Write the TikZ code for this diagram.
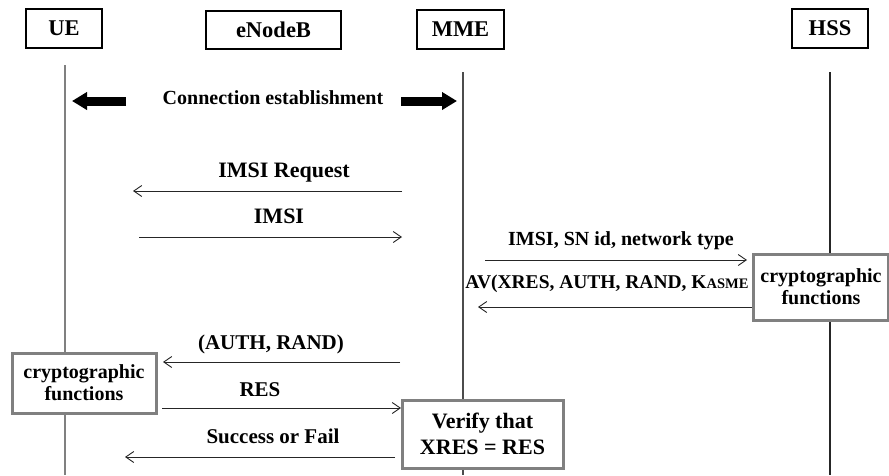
\documentclass[tikz,border=0pt]{standalone}
\usepackage{fontspec}
\setmainfont{Liberation Serif}
\usetikzlibrary{arrows.meta,shadows}
\begin{document}
\begin{tikzpicture}[x=1pt,y=-1pt,
  hdr/.style={draw=black, line width=2.2pt, minimum height=39pt, inner sep=0pt, font=\fontsize{22.5}{22.5}\selectfont\bfseries},
  life/.style={line width=1.1pt, draw=black!70},
  msg/.style={line width=0.9pt, draw=black!85, -{Straight Barb[length=8pt,width=11pt]}},
  lbl/.style={anchor=base, font=\fontsize{21}{21}\selectfont\bfseries, inner sep=0pt},
  fbox/.style={draw=black!50, line width=3pt, fill=white, align=center, inner sep=0pt,
     font=\fontsize{20}{22}\selectfont\bfseries,
     drop shadow={shadow xshift=2pt, shadow yshift=-2pt, opacity=0.35, fill=black!60}},
  bigarrow/.style={line width=9pt, draw=black, -{Triangle[length=15pt,width=17pt]}}
]
\useasboundingbox (0,0) rectangle (889,475);
\fill[white] (0,0) rectangle (889,475);

% headers
\node[hdr, minimum width=76pt] (ue) at (64,28.5) {UE};
\node[hdr, minimum width=135pt, minimum height=38pt] (enb) at (273.5,30) {eNodeB};
\node[hdr, minimum width=87pt] (mme) at (460.5,29.5) {MME};
\node[hdr, minimum width=76pt] (hss) at (830,28.5) {HSS};

% lifelines
\coordinate (uetop) at (65,65);   \coordinate (uebot) at (65,475);
\coordinate (mmetop) at (463,72); \coordinate (mmebot) at (463,475);
\coordinate (hsstop) at (830,72); \coordinate (hssbot) at (830,475);
\draw[life, draw=black!50] (uetop) -- (uebot);
\draw[life] (mmetop) -- (mmebot);
\draw[life, draw=black!85] (hsstop) -- (hssbot);

% connection establishment
\node[lbl, font=\fontsize{20}{20}\selectfont\bfseries] (conn) at (273,104) {Connection establishment};
\coordinate (cl1) at (126,101); \coordinate (cl2) at (72,101);
\coordinate (cr1) at (401,101); \coordinate (cr2) at (457,101);
\draw[bigarrow] (cl1) -- (cl2);
\draw[bigarrow] (cr1) -- (cr2);

% messages
\coordinate (m1s) at (402,191); \coordinate (m1e) at (133,191);
\draw[msg] (m1s) -- (m1e);
\node[lbl, font=\fontsize{22}{22}\selectfont\bfseries] (l1) at (284,177) {IMSI Request};

\coordinate (m2s) at (139,237); \coordinate (m2e) at (402,237);
\draw[msg] (m2s) -- (m2e);
\node[lbl, font=\fontsize{22}{22}\selectfont\bfseries] (l2) at (279,223) {IMSI};

\coordinate (m3s) at (485,260); \coordinate (m3e) at (747,260);
\draw[msg] (m3s) -- (m3e);
\node[lbl, font=\fontsize{20}{20}\selectfont\bfseries] (l3) at (621,245) {IMSI, SN id, network type};

\coordinate (m4s) at (753,307); \coordinate (m4e) at (478,307);
\draw[msg] (m4s) -- (m4e);
\node[lbl, font=\fontsize{19.5}{19.5}\selectfont\bfseries] (l4) at (607,288) {AV(XRES, AUTH, RAND, K{\fontsize{14.5}{14.5}\selectfont ASME}};

\coordinate (m5s) at (400,362); \coordinate (m5e) at (163,362);
\draw[msg] (m5s) -- (m5e);
\node[lbl] (l5) at (271,349) {(AUTH, RAND)};

\coordinate (m6s) at (162,408); \coordinate (m6e) at (401,408);
\draw[msg] (m6s) -- (m6e);
\node[lbl] (l6) at (260,396) {RES};

\coordinate (m7s) at (395,457); \coordinate (m7e) at (125,457);
\draw[msg] (m7s) -- (m7e);
\node[lbl] (l7) at (273,443) {Success or Fail};

% function boxes
\node[fbox, minimum width=135pt, minimum height=66pt] (hsscf) at (821,287) {cryptographic\\functions};
\node[fbox, minimum width=144pt, minimum height=60pt] (uecf) at (84,383) {cryptographic\\functions};
\node[fbox, minimum width=161pt, minimum height=68pt, font=\fontsize{22}{26}\selectfont\bfseries] (ver) at (482.5,434) {Verify that\\XRES = RES};
\end{tikzpicture}
\end{document}
